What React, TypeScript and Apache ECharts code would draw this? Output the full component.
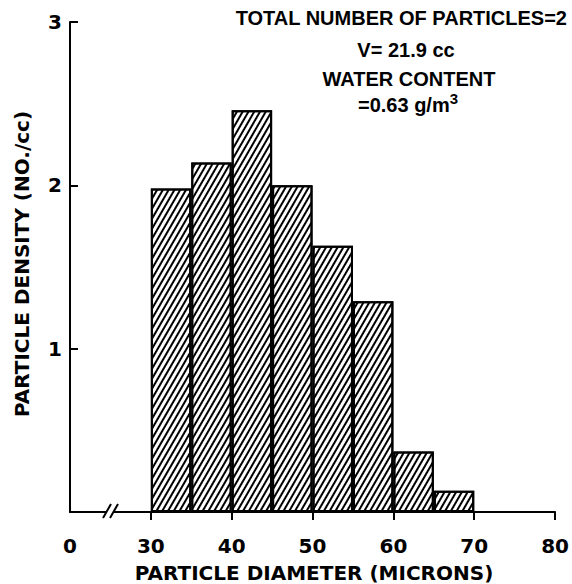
import React, { useEffect, useRef } from "react";
import * as echarts from "echarts";

const binLabels = ["20-25", "25-30", "30-35", "35-40", "40-45", "45-50", "50-55", "55-60", "60-65", "65-70", "70-75", "75-80"];
const density: (number | null)[] = [null, null, 1.98, 2.14, 2.46, 2.0, 1.63, 1.29, 0.37, 0.13, null, null];
const xTickValues = [30, 40, 50, 60, 70, 80];
const xLabelValues = [20, 30, 40, 50, 60, 70, 80];
const yLabelValues = [1, 2, 3];
const xTitle = "PARTICLE DIAMETER (MICRONS)";
const yTitle = "PARTICLE DENSITY (NO./cc)";
const noteLines = ["TOTAL NUMBER OF PARTICLES=2", "V= 21.9 cc", "WATER CONTENT", "=0.63 g/m"];

const FONT = "'Liberation Sans', Arial, sans-serif";
const WIDE = "'DejaVu Sans', sans-serif";

export default function App() {
  const ref = useRef<HTMLDivElement>(null);
  useEffect(() => {
    if (!ref.current) return;
    const chart = echarts.init(ref.current, null, { renderer: "svg" });
    const noteStyle = { fontFamily: FONT, fontWeight: "bold" as const, fontSize: 20, fill: "#000" };
    const titleStyle = { fontFamily: WIDE, fontWeight: "bold" as const, fontSize: 20, fill: "#000" };
    chart.setOption({
      animation: false,
      backgroundColor: "#fff",
      grid: { left: 70, right: 15, top: 22, bottom: 72 },
      xAxis: [
        {
          type: "value",
          min: 20,
          max: 80,
          interval: 10,
          axisLine: { show: true, lineStyle: { color: "#000", width: 2 } },
          axisTick: { show: true, customValues: xTickValues, length: 8, inside: false, lineStyle: { color: "#000", width: 2 } },
          axisLabel: {
            customValues: xLabelValues,
            formatter: (v: number) => (v === 20 ? "0" : String(v)),
            fontFamily: WIDE,
            fontWeight: "bold",
            fontSize: 20,
            color: "#000",
            margin: 24,
          },
          splitLine: { show: false },
        },
        {
          type: "category",
          data: binLabels,
          show: false,
          position: "bottom",
        },
      ],
      yAxis: {
        type: "value",
        min: 0,
        max: 3,
        interval: 1,
        axisLine: { show: true, lineStyle: { color: "#000", width: 2 } },
        axisTick: { show: true, customValues: yLabelValues, inside: true, length: 8, lineStyle: { color: "#000", width: 2 } },
        axisLabel: {
          customValues: yLabelValues,
          fontFamily: WIDE,
          fontWeight: "bold",
          fontSize: 20,
          color: "#000",
          margin: 8,
        },
        splitLine: { show: false },
      },
      series: [
        {
          type: "bar",
          xAxisIndex: 1,
          data: density.map((v) => (v == null ? "-" : v)),
          barCategoryGap: "0%",
          itemStyle: {
            color: "#fff",
            borderColor: "#000",
            borderWidth: 2,
            decal: {
              symbol: "rect",
              symbolSize: 1,
              dashArrayX: [1, 0],
              dashArrayY: [1.2, 2.3],
              rotation: -Math.PI / 3,
              color: "#000",
              backgroundColor: "#fff",
            },
          },
        },
      ],
      graphic: [
        { type: "rect", shape: { x: 107, y: 507, width: 7, height: 8 }, style: { fill: "#fff" }, z: 100 },
        { type: "line", shape: { x1: 103, y1: 518, x2: 111, y2: 504 }, style: { stroke: "#000", lineWidth: 2 }, z: 101 },
        { type: "line", shape: { x1: 110, y1: 518, x2: 118, y2: 504 }, style: { stroke: "#000", lineWidth: 2 }, z: 101 },
        { type: "text", x: 314, y: 573, style: { ...titleStyle, text: xTitle, align: "center", verticalAlign: "middle" } },
        { type: "text", x: 22, y: 264, rotation: Math.PI / 2, style: { ...titleStyle, text: yTitle, align: "center", verticalAlign: "middle" } },
        { type: "text", x: 567, y: 18, style: { ...noteStyle, text: noteLines[0], align: "right", verticalAlign: "middle" } },
        { type: "text", x: 406, y: 50, style: { ...noteStyle, text: noteLines[1], align: "center", verticalAlign: "middle" } },
        { type: "text", x: 409, y: 79, style: { ...noteStyle, text: noteLines[2], align: "center", verticalAlign: "middle" } },
        {
          type: "text",
          x: 408,
          y: 103,
          style: {
            ...noteStyle,
            text: "{a|" + noteLines[3] + "}{s|3}",
            align: "center",
            verticalAlign: "middle",
            rich: {
              a: { fontFamily: FONT, fontWeight: "bold", fontSize: 20, lineHeight: 24, verticalAlign: "bottom" },
              s: { fontFamily: FONT, fontWeight: "bold", fontSize: 15, lineHeight: 24, verticalAlign: "top" },
            },
          },
        },
      ],
    });
    return () => chart.dispose();
  }, []);
  return <div ref={ref} style={{ position: "absolute", left: 0, top: 0, width: 572, height: 584 }} />;
}
